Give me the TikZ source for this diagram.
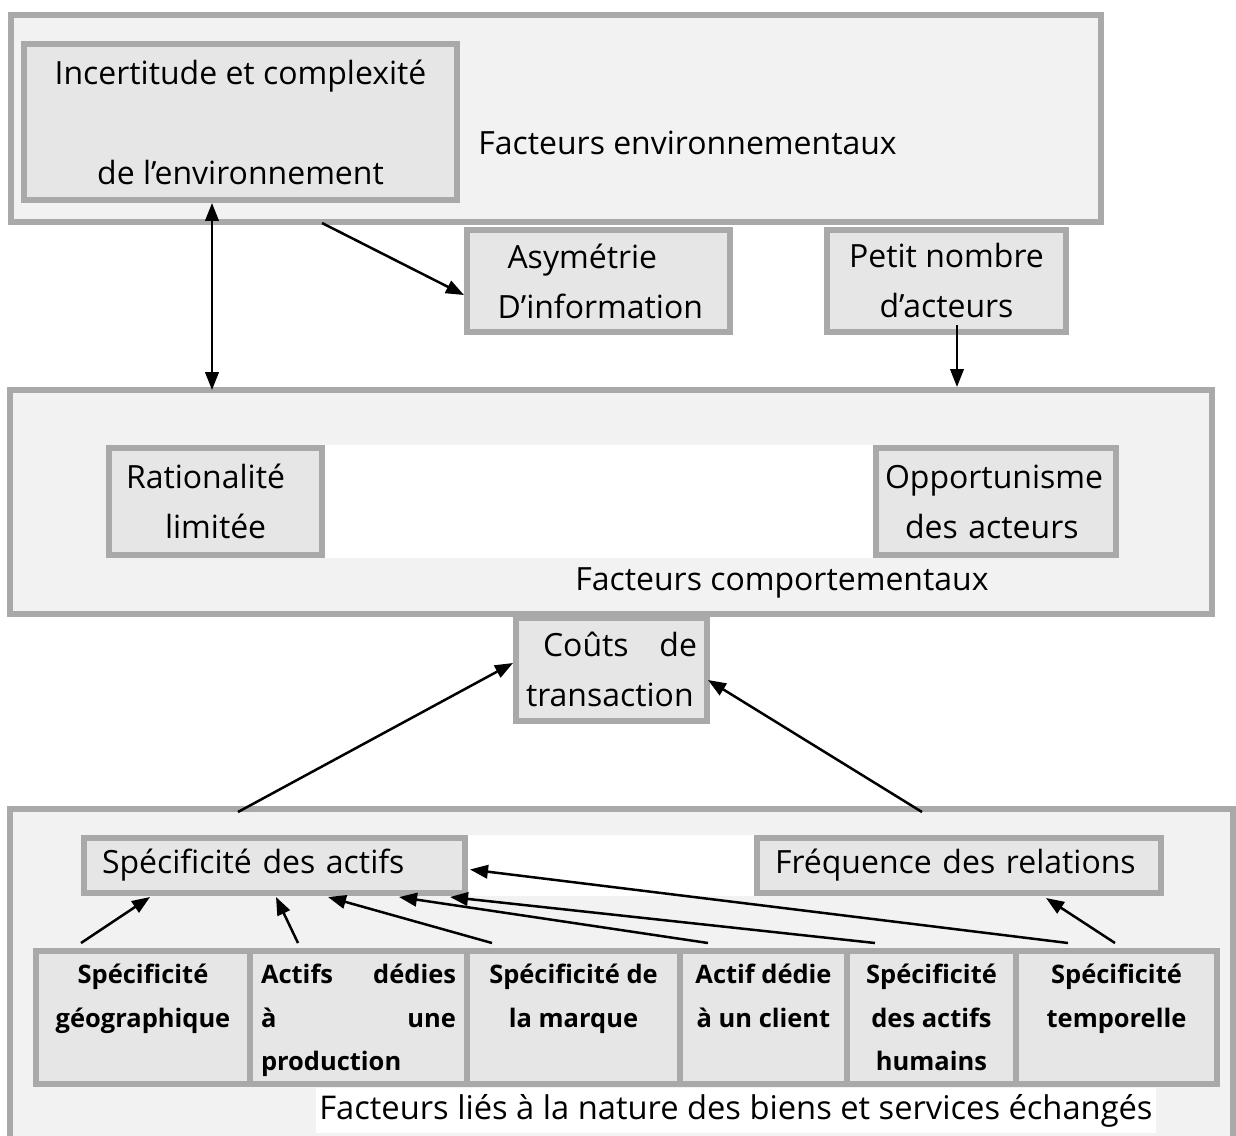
\documentclass[tikz,border=0pt]{standalone}
\usepackage{fontspec}
\setmainfont{Open Sans}
\usetikzlibrary{arrows.meta,calc}
\newlength\pxu
\setlength\pxu{0.02cm}
\definecolor{bdr}{HTML}{A9A9A9}
\definecolor{panel}{HTML}{F2F2F2}
\definecolor{cell}{HTML}{E6E6E6}
\newcommand\txt{\fontsize{18.2pt}{28.45pt}\selectfont}
\newcommand\tabtxt{\fontsize{14.5pt}{25pt}\selectfont\bfseries}
% fixed first-line height and last-line depth so every table cell starts at the same place
\newcommand\toprow{\rule{0pt}{16pt}}
\newcommand\lastrow{\rule[-5.2pt]{0pt}{0pt}}
\begin{document}
\begin{tikzpicture}[x=\pxu,y=-\pxu,
  panelbox/.style={draw=bdr, fill=panel, line width=6\pxu, inner sep=0pt, outer sep=0pt},
  cellbox/.style={draw=bdr, fill=cell, line width=6\pxu, inner sep=0pt, outer sep=0pt, font=\txt, align=center},
  tabcell/.style={cellbox, font=\tabtxt, minimum height=133\pxu},
  label/.style={font=\txt, inner sep=0pt, anchor=west},
  conn/.style={line width=0.05cm, -{Triangle[length=0.36cm,width=0.27cm]}},
  dconn/.style={line width=0.05cm, {Triangle[length=0.36cm,width=0.27cm]}-{Triangle[length=0.36cm,width=0.27cm]}}]
\useasboundingbox (0,0) rectangle (1236,1135);
\clip (0,0) rectangle (1236,1135);

% three large panels
\node[panelbox, minimum width=1090\pxu, minimum height=207\pxu] (env) at (556,118.5) {};
\node[panelbox, minimum width=1202\pxu, minimum height=224\pxu] (comport) at (611,502) {};
\node[panelbox, minimum width=1223\pxu, minimum height=351\pxu] (nature) at (621.5,984.5) {};

% environmental factors
\node[cellbox, minimum width=433\pxu, minimum height=156\pxu] (incert) at (240.5,122)
  {Incertitude et complexité\\[1cm]de l’environnement};
\node[label] (envtxt) at (478,143) {Facteurs environnementaux};
\node[cellbox, minimum width=263\pxu, minimum height=102\pxu, text width=202\pxu, align=left] (asym) at (598.5,281)
  {\hspace*{10\pxu}Asymétrie\\D’information};
\node[cellbox, minimum width=239\pxu, minimum height=102\pxu] (petit) at (946.5,281)
  {Petit nombre\\d’acteurs};

% behavioural factors
\fill[white] (325,445) rectangle (875,558);
\node[cellbox, minimum width=213\pxu, minimum height=107\pxu, text width=179\pxu, align=left] (rat) at (215.5,501.5)
  {Rationalité\\\hspace*{39\pxu}limitée};
\node[cellbox, minimum width=240\pxu, minimum height=107\pxu, text width=222\pxu, align=left] (opp) at (996,501.5)
  {Opportunisme\\\hspace*{20\pxu}des acteurs};
\node[label] (comptxt) at (575,583) {Facteurs comportementaux};

% transaction costs
\node[cellbox, minimum width=191\pxu, minimum height=103\pxu, text width=171\pxu, align=left] (couts) at (611.5,669.5)
  {\hspace*{17\pxu}Coûts\hfill de\\transaction};

% asset specificity and frequency
\fill[white] (466,835) rectangle (754,896);
\node[cellbox, minimum width=381\pxu, minimum height=55\pxu, text width=345\pxu, align=left] (spec) at (274.5,865.5)
  {Spécificité des actifs};
\node[cellbox, minimum width=404\pxu, minimum height=55\pxu, text width=368\pxu, align=left] (freq) at (959,865.5)
  {Fréquence des relations};

% table of specificity types
\node[tabcell, minimum width=214\pxu] (t1) at (143,1017.5) {\toprow Spécificité\\géographique\\\lastrow};
\node[tabcell, minimum width=217\pxu, text width=195\pxu, align=left] (t2) at (358.5,1017.5)
  {\toprow Actifs\hfill dédies\\à\hfill une\\production\lastrow};
\node[tabcell, minimum width=213\pxu] (t3) at (573.5,1017.5) {\toprow Spécificité de\\la marque\\\lastrow};
\node[tabcell, minimum width=167\pxu] (t4) at (763.5,1017.5) {\toprow Actif dédie\\à un client\\\lastrow};
\node[tabcell, minimum width=169\pxu] (t5) at (931.5,1017.5) {\toprow Spécificité\\des actifs\\humains\lastrow};
\node[tabcell, minimum width=201\pxu] (t6) at (1116.5,1017.5) {\toprow Spécificité\\temporelle\\\lastrow};

\node[label, fill=white, inner xsep=3\pxu, minimum height=45\pxu, font=\fontsize{18.6pt}{28.45pt}\selectfont] (natxt) at (316,1110.5)
  {Facteurs liés à la nature des biens et services échangés};

% connectors
\coordinate (dbl) at ($(incert.south)+(-28.5,3)$);
\draw[dconn] (dbl) -- (dbl |- comport.north);
\draw[conn] ($(env.south west)+(311,1)$) -- ($(asym.west)+(-3,14)$);
\coordinate (pn) at ($(petit.south)+(10.5,-7)$);
\draw[conn] (pn) -- ($(pn |- comport.north)+(0,-3)$);

\draw[conn] ($(nature.north west)+(228,3)$) -- ($(couts.west)+(-3,-6.5)$);
\draw[conn] ($(nature.north west)+(912,3)$) -- ($(couts.east)+(1,10.5)$);

\draw[conn] ($(t1.north west)+(45,-8)$) -- ($(spec.south west)+(66,4)$);
\draw[conn] ($(t2.north west)+(48,-8)$) -- ($(spec.south west)+(192,4)$);
\draw[conn] ($(t3.north west)+(25,-8)$) -- ($(spec.south west)+(244,4)$);
\draw[conn] ($(t4.north west)+(28,-8)$) -- ($(spec.south west)+(315,4)$);
\draw[conn] ($(t5.north west)+(28,-8)$) -- ($(spec.south west)+(366,4)$);
\draw[conn] ($(t6.north west)+(52,-8)$) -- ($(spec.east)+(5,4)$);
\draw[conn] ($(t6.north west)+(99,-8)$) -- ($(freq.south west)+(289,5)$);
\end{tikzpicture}
\end{document}
